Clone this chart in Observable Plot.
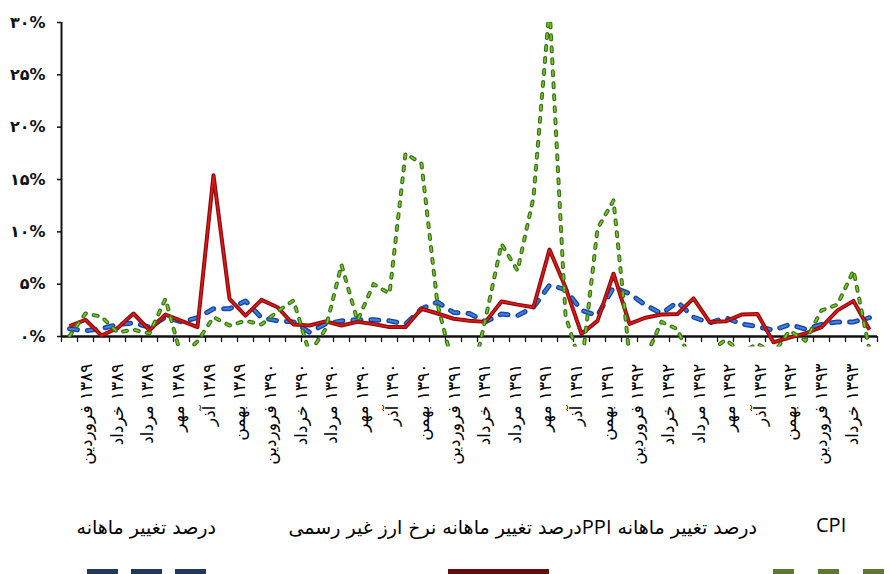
<!DOCTYPE html>
<html><head><meta charset="utf-8">
<script src="https://cdn.jsdelivr.net/npm/d3@7"></script>
<script src="https://cdn.jsdelivr.net/npm/@observablehq/plot@0.6"></script>
<style>
body{margin:0;background:#fff;}
#wrap{position:relative;width:890px;height:574px;overflow:hidden;background:#fff;}
#legend{position:absolute;left:0;top:495px;width:890px;height:79px;}
.lt{position:absolute;font-family:"DejaVu Sans";font-size:19px;color:#000;white-space:nowrap;line-height:22px;}
.lat{font-family:"Open Sans",sans-serif;font-size:20px;}
</style></head><body>
<div id="wrap"><div id="chart"></div><div id="legend"></div></div>
<script>
// x-axis tick labels (every second month)
const tickLabels = [
 "۱۳۸۹ فروردین","۱۳۸۹ خرداد","۱۳۸۹ مرداد","۱۳۸۹ مهر","۱۳۸۹ آذر","۱۳۸۹ بهمن",
 "۱۳۹۰ فروردین","۱۳۹۰ خرداد","۱۳۹۰ مرداد","۱۳۹۰ مهر","۱۳۹۰ آذر","۱۳۹۰ بهمن",
 "۱۳۹۱ فروردین","۱۳۹۱ خرداد","۱۳۹۱ مرداد","۱۳۹۱ مهر","۱۳۹۱ آذر","۱۳۹۱ بهمن",
 "۱۳۹۲ فروردین","۱۳۹۲ خرداد","۱۳۹۲ مرداد","۱۳۹۲ مهر","۱۳۹۲ آذر","۱۳۹۲ بهمن",
 "۱۳۹۳ فروردین","۱۳۹۳ خرداد"
];
const monthCount = 51; // Farvardin 1389 .. Khordad 1393
const yTicks = [0, 5, 10, 15, 20, 25, 30];

// monthly % change series
const blueSeries = [0.75,0.55,0.75,1.15,1.3,0.9,1.85,1.4,1.8,2.65,2.65,3.4,1.8,1.5,1.4,0.4,1.2,1.5,1.6,1.6,1.5,1.2,2.65,3.3,2.3,2.2,1.4,2.15,2.0,2.8,4.9,4.5,2.5,2.0,4.7,4.1,3.0,2.2,3.3,1.85,1.3,1.8,1.2,0.95,0.6,1.15,0.7,1.15,1.4,1.4,1.8];
const redSeries = [1.0,1.6,0.1,0.8,2.2,0.6,2.1,1.5,0.9,15.4,3.6,2.0,3.5,2.8,1.15,1.05,1.45,1.05,1.4,1.2,0.9,0.9,2.65,2.2,1.7,1.5,1.4,3.35,3.05,2.8,8.3,4.7,0.25,1.5,6.0,1.2,1.8,2.1,2.15,3.65,1.4,1.45,2.1,2.15,-0.55,-0.1,0.3,0.9,2.5,3.4,0.65];
const greenSeries = [0.05,2.2,1.9,0.4,0.65,0.3,3.6,-2,-0.45,1.85,1.05,1.5,1.15,2.4,3.45,-1.6,0.7,6.85,1.5,5.0,4.1,17.5,16.5,3.1,-3,-5,1.7,8.85,6.3,13.3,31.5,2.0,-3,10.3,13.0,-2,-2,1.4,0.7,-3,-1.5,-0.3,-1.5,-0.7,-1.6,0.55,-0.4,2.5,3.05,6.3,-1.3];

const toFa = s => String(s).replace(/\d/g, d => "۰۱۲۳۴۵۶۷۸۹"[d]);
const rows = vals => vals.map((v, i) => ({i, v}));
const bounds = d3.range(monthCount + 1).map(k => k - 0.5);
const lblBand = d3.scaleBand().domain(d3.range(tickLabels.length)).range([-0.5 + 0.625, monthCount - 0.5 - 0.625]);
const lblData = tickLabels.map((t, k) => ({t: "\u202B" + t + "\u202C", x: lblBand(k) + lblBand.bandwidth() / 2}));
const tickShape = {draw(ctx, l) { ctx.moveTo(0, 0); ctx.lineTo(0, -l); }};

const lineStyle = (vals, outer, inner, wo, wi, dash) => [
  Plot.line(rows(vals), {x: "i", y: "v", stroke: outer, strokeWidth: wo, strokeDasharray: dash, strokeLinecap: dash ? "round" : "butt", strokeLinejoin: "round", clip: true}),
  Plot.line(rows(vals), {x: "i", y: "v", stroke: inner, strokeWidth: wi, strokeDasharray: dash, strokeLinecap: dash ? "round" : "butt", strokeLinejoin: "round", clip: true})
];

const chart = Plot.plot({
  width: 890, height: 495,
  marginTop: 22, marginBottom: 148.5, marginLeft: 61, marginRight: 13,
  style: {fontFamily: "DejaVu Sans", background: "#fff", overflow: "visible"},
  x: {type: "linear", domain: [-0.5, monthCount - 0.5], axis: null},
  y: {domain: [-1, 30], axis: null},
  marks: [
    Plot.axisY(yTicks, {anchor: "left", label: null, tickSize: 4, tickPadding: 12, tickFormat: d => toFa(d) + "%", fontSize: 16, fontWeight: "bold", fill: "#111", stroke: "#111", strokeWidth: 1.5}),
    Plot.ruleX([-0.5], {y1: 0, y2: 30, stroke: "#111", strokeWidth: 2}),
    Plot.ruleY([0], {x1: -0.5, x2: monthCount - 0.5, stroke: "#111", strokeWidth: 2.5}),
    Plot.vector(bounds, {x: d => d, y: 0, length: 5, rotate: 180, anchor: "start", shape: tickShape, stroke: "#111", strokeWidth: 1.3}),
    Plot.text(lblData, {x: "x", y: 0, text: "t", rotate: -90, textAnchor: "end", dy: 27, fontSize: 17, fill: "#000"}),
    ...lineStyle(blueSeries, "#1c47a0", "#3a84e4", 5, 2, "8,10"),
    ...lineStyle(redSeries, "#900b0b", "#e01a1a", 4, 1.5, null),
    ...lineStyle(greenSeries, "#387516", "#82cc2a", 4, 1.5, "4,8")
  ]
});
document.getElementById("chart").appendChild(chart);

// legend
const legend = document.getElementById("legend");
legend.innerHTML = `
<div class="lt" style="right:674px;top:21px;" dir="rtl">درصد تغییر ماهانه</div>
<div class="lt" style="right:133px;top:21px;" dir="rtl">درصد تغییر ماهانه <span class="lat">PPI</span>درصد تغییر ماهانه نرخ ارز غیر رسمی</div>
<div class="lt lat" style="left:816px;top:19px;">CPI</div>
<svg width="890" height="79" style="position:absolute;left:0;top:0">
  <line x1="87" x2="207" y1="77" y2="77" stroke="#1f3a5c" stroke-width="6" stroke-dasharray="31,13"/>
  <line x1="448" x2="549" y1="77" y2="77" stroke="#6b0a0a" stroke-width="6"/>
  <line x1="773" x2="890" y1="77" y2="77" stroke="#5b7a2e" stroke-width="6" stroke-dasharray="21,24"/>
</svg>`;
</script>
</body></html>
